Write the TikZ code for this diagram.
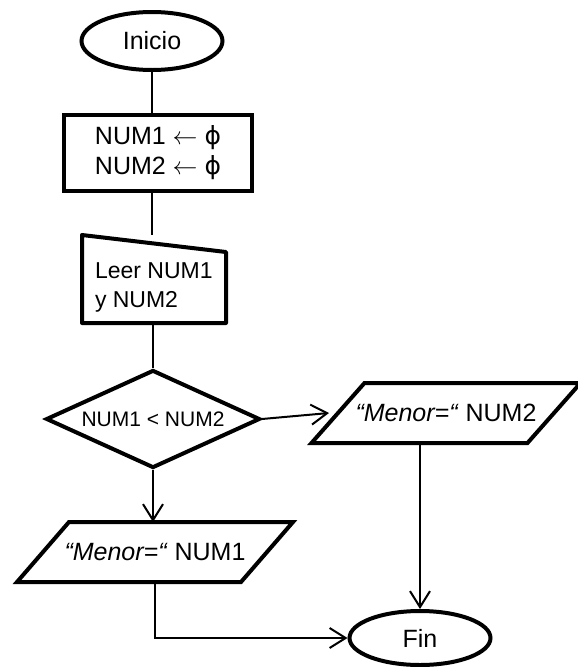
\documentclass[tikz,border=0pt]{standalone}
\usepackage{fontspec}
\setmainfont{Liberation Sans}
\newfontfamily\symfont{DejaVu Sans}
\usetikzlibrary{shapes.geometric, arrows.meta}

\begin{document}
\begin{tikzpicture}[x = 1pt, y = -1pt,
	box/.style = {draw, line width = 4pt, inner sep = 0pt, font = \fontsize{25}{30}\selectfont},
	terminal/.style = {box, ellipse, minimum width = 141, minimum height = 58},
	process/.style = {box, rectangle, align = center, minimum width = 188, minimum height = 76},
	decision/.style = {box, diamond, aspect = 2.18, minimum width = 214, minimum height = 98, font = \fontsize{21}{25}\selectfont},
	output/.style = {box, draw = none, rectangle, minimum height = 56},
	line/.style = {line width = 2pt},
	arrow/.style = {line, -{Straight Barb[length = 16pt, width = 20pt]}}]
	\useasboundingbox (0, 0) rectangle (578, 667);
	\node[terminal] (inicio) at (152, 41) {Inicio};
	\node[process] (init) at (158, 153) {NUM1 $\leftarrow$ {\symfont ϕ}\\NUM2 $\leftarrow$ {\symfont ϕ}};
	\node[box, draw = none, minimum width = 140, minimum height = 84] (leer) at (154, 279) {};
		\draw[line width = 4pt, line join = round] (leer.north west) -- ([yshift = -17]leer.north east) -- (leer.south east) -- (leer.south west) -- cycle;
		\node[box, draw = none, anchor = west, align = left, font = \fontsize{23}{29}\selectfont] (leertxt) at ([xshift = 11, yshift = -8]leer.west) {Leer NUM1\\y NUM2};
	\node[decision] (cond) at (153, 419) {NUM1 < NUM2};
	\node[output, minimum width = 212] (out2) at (446, 413) {\textit{“Menor=“} NUM2};
		\draw[line width = 4pt] ([xshift = 26.5]out2.north west) -- ([xshift = 26.5]out2.north east) -- ([xshift = -26.5]out2.south east) -- ([xshift = -26.5]out2.south west) -- cycle;
	\node[output, minimum width = 220] (out1) at (155, 552) {\textit{“Menor=“} NUM1};
		\draw[line width = 4pt] ([xshift = 26]out1.north west) -- ([xshift = 26]out1.north east) -- ([xshift = -26]out1.south east) -- ([xshift = -26]out1.south west) -- cycle;
	\node[terminal, minimum height = 54] (fin) at (420, 638) {Fin};
	\draw[line] (inicio.south) -- (inicio.south |- init.north);
	\draw[line] (inicio.south |- init.south) -- (inicio.south |- leer.north);
	\draw[line] (leer.south -| cond.north) -- (cond.north);
	\draw[arrow] (cond.east) -- ([xshift = -9]out2.west);
	\draw[arrow] (cond.south) -- (cond.south |- out1.north);
	\draw[arrow] (out2.south -| fin.north) -- (fin.north);
	\draw[arrow] (out1.south) |- (fin.west);
\end{tikzpicture}
\end{document}
